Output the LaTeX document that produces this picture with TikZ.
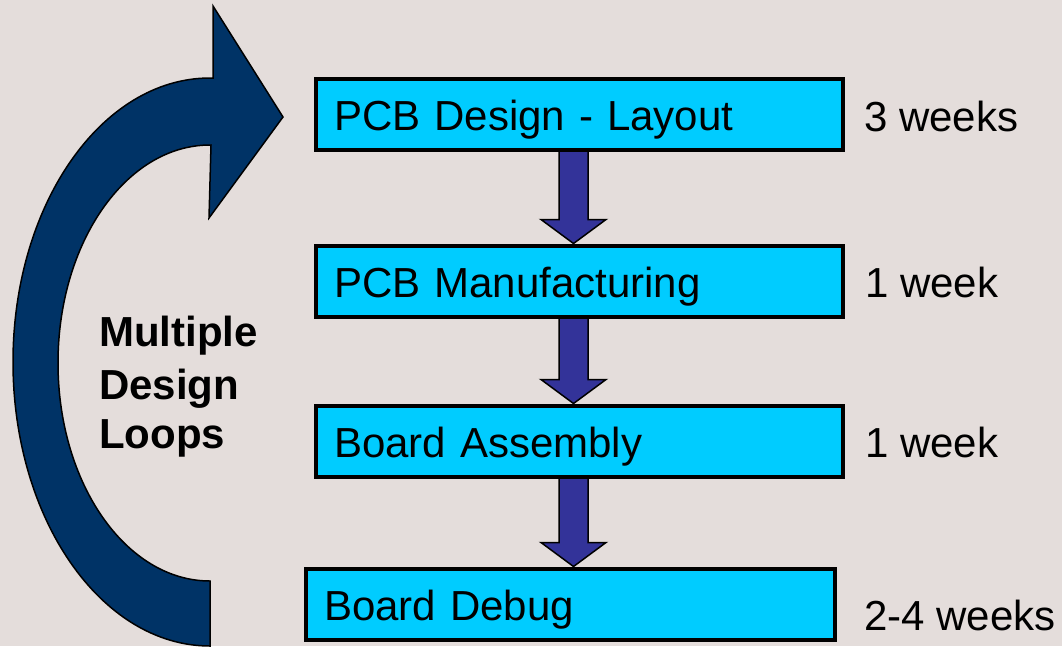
\documentclass[tikz,border=0pt]{standalone}
\usepackage{fontspec}
\setmainfont{Liberation Sans}
\usetikzlibrary{calc,backgrounds}
\definecolor{navyarrow}{HTML}{003366}
\definecolor{flowblue}{HTML}{333399}
\definecolor{boxcyan}{HTML}{00CCFF}
\definecolor{bgcol}{HTML}{E4DDDB}
\newcommand\labfont{\fontsize{42pt}{50pt}\selectfont}
\tikzset{
  stepbox/.style={draw=black, line width=4pt, fill=boxcyan, text width=491pt,
    inner xsep=18pt, inner ysep=0pt, minimum height=71pt, text height=40pt,
    text depth=8pt, align=left, font=\labfont},
  timelabel/.style={anchor=base west, inner sep=0pt, font=\labfont},
  looplabel/.style={anchor=base west, inner sep=0pt, font=\labfont\bfseries},
  flowarrow/.style={draw=black, line width=1.5pt, fill=flowblue, line join=miter},
  loopshape/.style={draw=black, line width=1.5pt, fill=navyarrow, line join=miter}
}
\begin{document}
\begin{tikzpicture}[x=1pt,y=-1pt]
\useasboundingbox (0,0) rectangle (1062,646);
\begin{scope}[on background layer]
  \fill[bgcol] (0,0) rectangle (1062,646);
\end{scope}

% boxes
\node[stepbox] (b1) at (579.5,114.5) {PCB Design - Layout};
\node[stepbox] (b2) at (579.5,281) {PCB Manufacturing};
\node[stepbox] (b3) at (579.5,441) {Board Assembly};
\node[stepbox, text width=493pt] (b4) at (570.5,604) {Board Debug};

% durations
\node[timelabel] (t1) at (864,131) {3 weeks};
\node[timelabel] (t2) at (865,297) {1 week};
\node[timelabel] (t3) at (865,457) {1 week};
\node[timelabel] (t4) at (864,630) {2-4 weeks};

% loop label
\node[looplabel] (l1) at (99,346) {Multiple};
\node[looplabel] (l2) at (99,399) {Design};
\node[looplabel] (l3) at (99,448) {Loops};

% down arrows (connectors between boxes)
\begin{scope}[on background layer]
\foreach \a/\b in {b1/b2,b2/b3,b3/b4}{
  \draw[flowarrow] let \p1=(\a.south), \p2=(\b.north) in
    (559pt,\y1+3pt) -- (588pt,\y1+3pt) -- (588pt,\y2+24pt) -- (606pt,\y2+24pt)
    -- (573.5pt,\y2) -- (541pt,\y2+24pt) -- (559pt,\y2+24pt) -- cycle;
}
\end{scope}

% curved loop arrow
\draw[loopshape] (210,646)
  arc[start angle=270, end angle=90, x radius=197pt, y radius=284pt]
  -- (213,78) -- (213,6) -- (283,117) -- (209,218) -- (211,145) -- (210,145)
  arc[start angle=90, end angle=270, x radius=152pt, y radius=218pt]
  -- cycle;
\end{tikzpicture}
\end{document}
